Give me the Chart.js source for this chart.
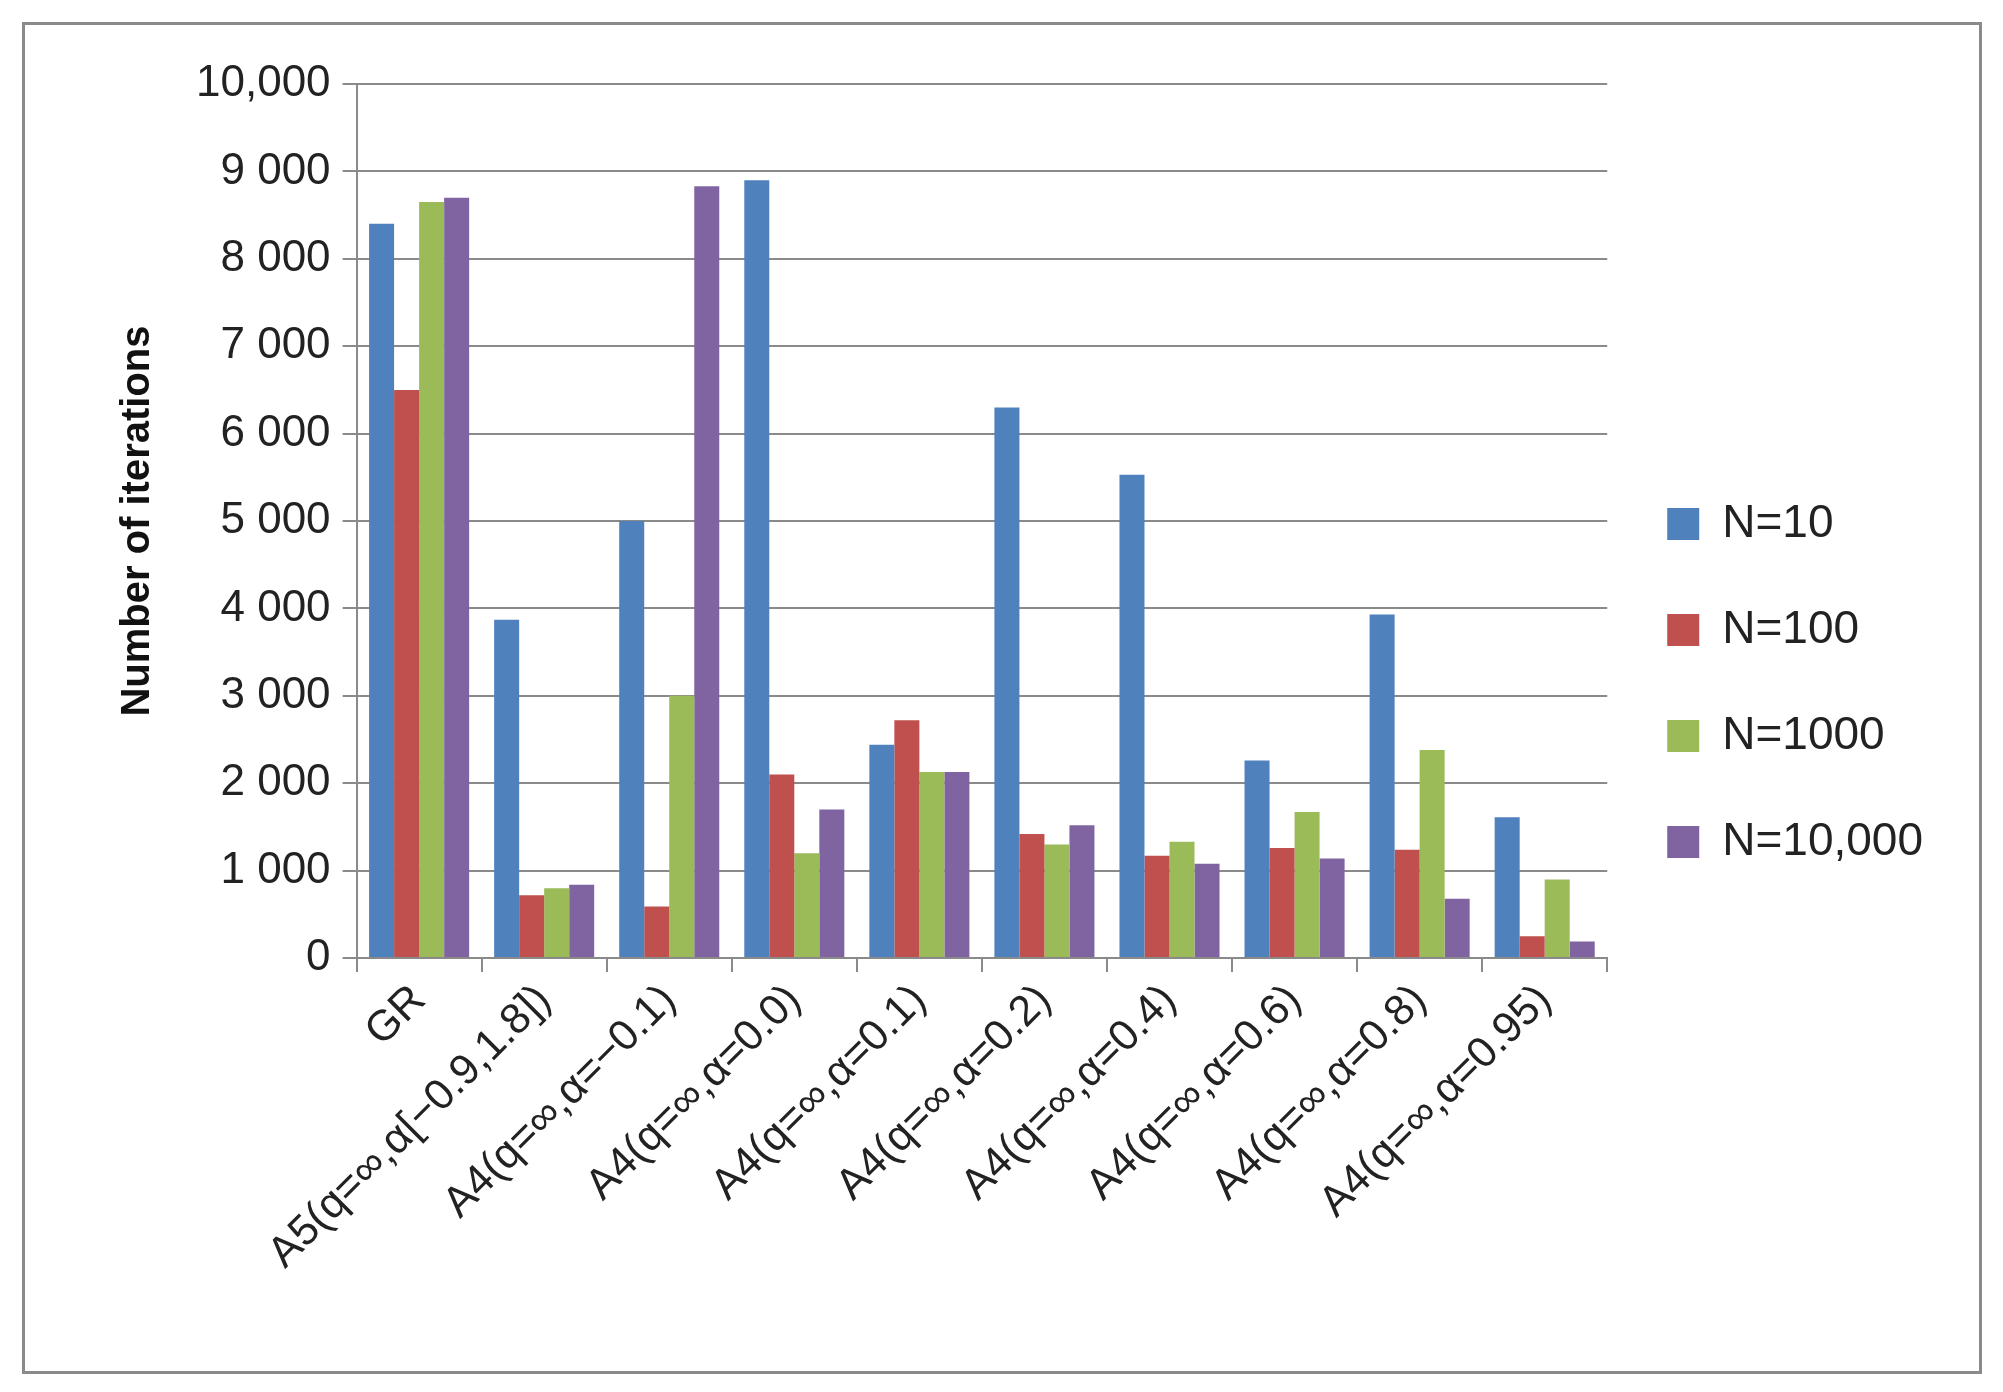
<!DOCTYPE html>
<html><head><meta charset="utf-8">
<script src="https://cdn.jsdelivr.net/npm/chart.js@4.4.1/dist/chart.umd.min.js"></script>
<style>
html,body{margin:0;padding:0;background:#fff;}
#frame{position:absolute;left:22px;top:22px;width:1954px;height:1346px;border:3px solid #8a8a8a;background:#fff;}
#wrap{position:absolute;left:0;top:0;width:2003px;height:1392px;}
</style></head><body>
<div id="frame"></div>
<div id="wrap"><canvas id="c" width="2003" height="1392"></canvas></div>
<script>
const categories=["GR","A5(q=∞,α[−0.9,1.8])","A4(q=∞,α=−0.1)","A4(q=∞,α=0.0)","A4(q=∞,α=0.1)","A4(q=∞,α=0.2)","A4(q=∞,α=0.4)","A4(q=∞,α=0.6)","A4(q=∞,α=0.8)","A4(q=∞,α=0.95)"];
const seriesNames=["N=10","N=100","N=1000","N=10,000"];
const n10=[8400,3870,5000,8900,2440,6300,5530,2260,3930,1610];
const n100=[6500,720,590,2100,2720,1420,1170,1260,1240,250];
const n1000=[8650,800,3000,1200,2130,1300,1330,1670,2380,900];
const n10000=[8700,840,8830,1700,2130,1520,1080,1140,680,190];
const tickLabels={0:"0",1000:"1 000",2000:"2 000",3000:"3 000",4000:"4 000",5000:"5 000",6000:"6 000",7000:"7 000",8000:"8 000",9000:"9 000",10000:"10,000"};
const colors=["#4f81bd","#c0504d","#9bbb59","#8064a2"];
const vals=[n10,n100,n1000,n10000];
const font="'Liberation Sans', Arial, sans-serif";
new Chart(document.getElementById('c'),{
type:'bar',
data:{labels:categories,datasets:seriesNames.map((s,i)=>({label:s,data:vals[i],backgroundColor:colors[i],borderWidth:0}))},
options:{responsive:false,animation:false,
layout:{padding:{left:110,right:70,top:84,bottom:110}},
datasets:{bar:{categoryPercentage:0.8,barPercentage:1.0}},
plugins:{legend:{position:'right',labels:{font:{size:46,family:font},color:'#222',boxWidth:32,boxHeight:32,padding:60}},tooltip:{enabled:false}},
scales:{
x:{grid:{offset:true,drawOnChartArea:false,color:'#8a8a8a',tickLength:14,lineWidth:2},border:{color:'#8a8a8a',width:2},
 ticks:{font:{size:43,family:font},color:'#222',maxRotation:45,minRotation:45,autoSkip:false}},
y:{min:0,max:10000,grid:{color:'#8a8a8a',lineWidth:2,tickLength:14},border:{color:'#8a8a8a',width:2},
 ticks:{stepSize:1000,font:{size:44,family:font},color:'#222',padding:12,callback:v=>tickLabels[v]},
 title:{display:true,text:'Number of iterations',font:{size:40,weight:'bold',family:font},color:'#111',padding:{bottom:22}}}
}}});
</script></body></html>
